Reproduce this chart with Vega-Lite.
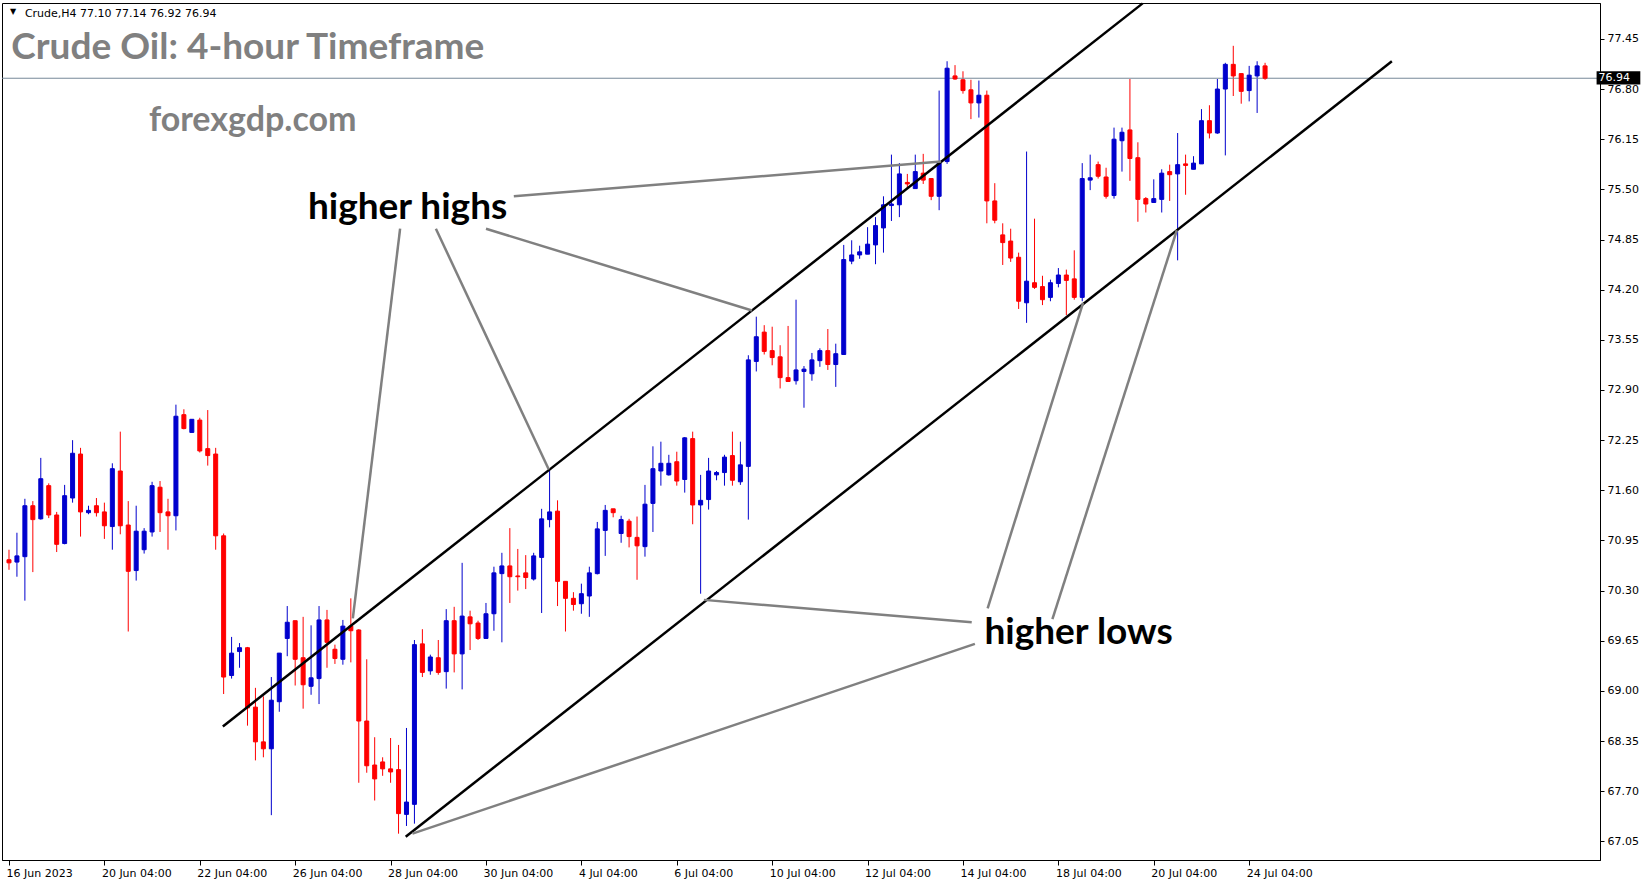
{
  "$schema": "https://vega.github.io/schema/vega-lite/v6.json",
  "width": 1598,
  "height": 857,
  "autosize": {"type": "none"},
  "padding": {"left": 2, "top": 3, "right": 49, "bottom": 24},
  "background": "white",
  "config": {
    "view": {"stroke": "black", "strokeWidth": 1},
    "axis": {"grid": false, "title": null, "domainColor": "black", "tickColor": "black", "labelColor": "black", "labelFont": "DejaVu Sans", "labelFontSize": 11}
  },
  "datasets": {
    "candles": [
      {"i":0,"o":70.70,"h":70.83,"l":70.57,"c":70.66},
      {"i":1,"o":70.67,"h":71.05,"l":70.48,"c":70.75},
      {"i":2,"o":70.74,"h":71.49,"l":70.17,"c":71.40},
      {"i":3,"o":71.40,"h":71.46,"l":70.54,"c":71.22},
      {"i":4,"o":71.23,"h":72.02,"l":71.22,"c":71.75},
      {"i":5,"o":71.66,"h":71.69,"l":71.24,"c":71.28},
      {"i":6,"o":71.28,"h":71.32,"l":70.80,"c":70.90},
      {"i":7,"o":70.91,"h":71.67,"l":70.90,"c":71.53},
      {"i":8,"o":71.50,"h":72.25,"l":71.44,"c":72.08},
      {"i":9,"o":72.07,"h":72.15,"l":71.00,"c":71.32},
      {"i":10,"o":71.31,"h":71.40,"l":71.29,"c":71.34},
      {"i":11,"o":71.40,"h":71.50,"l":71.26,"c":71.31},
      {"i":12,"o":71.32,"h":71.44,"l":70.97,"c":71.14},
      {"i":13,"o":71.13,"h":71.95,"l":70.83,"c":71.88},
      {"i":14,"o":71.85,"h":72.36,"l":71.03,"c":71.14},
      {"i":15,"o":71.15,"h":71.46,"l":69.77,"c":70.55},
      {"i":16,"o":70.56,"h":71.40,"l":70.43,"c":71.07},
      {"i":17,"o":70.83,"h":71.11,"l":70.78,"c":71.07},
      {"i":18,"o":71.06,"h":71.71,"l":71.00,"c":71.66},
      {"i":19,"o":71.64,"h":71.72,"l":71.06,"c":71.31},
      {"i":20,"o":71.32,"h":71.49,"l":70.83,"c":71.27},
      {"i":21,"o":71.27,"h":72.71,"l":71.08,"c":72.56},
      {"i":22,"o":72.58,"h":72.65,"l":72.39,"c":72.40},
      {"i":23,"o":72.35,"h":72.52,"l":72.35,"c":72.52},
      {"i":24,"o":72.51,"h":72.54,"l":72.09,"c":72.11},
      {"i":25,"o":72.14,"h":72.64,"l":71.92,"c":72.05},
      {"i":26,"o":72.07,"h":72.15,"l":70.83,"c":71.01},
      {"i":27,"o":71.01,"h":71.04,"l":68.96,"c":69.18},
      {"i":28,"o":69.20,"h":69.70,"l":69.16,"c":69.49},
      {"i":29,"o":69.51,"h":69.62,"l":69.30,"c":69.56},
      {"i":30,"o":69.56,"h":69.57,"l":68.55,"c":68.78},
      {"i":31,"o":68.79,"h":69.04,"l":68.10,"c":68.34},
      {"i":32,"o":68.34,"h":68.93,"l":68.14,"c":68.25},
      {"i":33,"o":68.25,"h":69.18,"l":67.39,"c":68.88},
      {"i":34,"o":68.86,"h":69.49,"l":68.73,"c":69.49},
      {"i":35,"o":69.68,"h":70.10,"l":69.45,"c":69.89},
      {"i":36,"o":69.91,"h":69.91,"l":69.07,"c":69.41},
      {"i":37,"o":69.43,"h":69.96,"l":68.77,"c":69.08},
      {"i":38,"o":69.06,"h":69.85,"l":68.95,"c":69.17},
      {"i":39,"o":69.16,"h":70.10,"l":68.83,"c":69.92},
      {"i":40,"o":69.92,"h":70.05,"l":69.30,"c":69.63},
      {"i":41,"o":69.54,"h":69.60,"l":69.35,"c":69.42},
      {"i":42,"o":69.41,"h":69.92,"l":69.34,"c":69.84},
      {"i":43,"o":69.84,"h":70.20,"l":69.37,"c":69.78},
      {"i":44,"o":69.79,"h":69.80,"l":67.81,"c":68.61},
      {"i":45,"o":68.61,"h":69.41,"l":67.94,"c":68.03},
      {"i":46,"o":68.04,"h":68.40,"l":67.58,"c":67.86},
      {"i":47,"o":68.08,"h":68.14,"l":67.90,"c":67.99},
      {"i":48,"o":67.99,"h":68.39,"l":67.81,"c":67.95},
      {"i":49,"o":67.98,"h":68.30,"l":67.15,"c":67.41},
      {"i":50,"o":67.40,"h":68.52,"l":67.25,"c":67.56},
      {"i":51,"o":67.53,"h":69.66,"l":67.28,"c":69.60},
      {"i":52,"o":69.61,"h":69.80,"l":69.18,"c":69.24},
      {"i":53,"o":69.26,"h":69.47,"l":69.21,"c":69.44},
      {"i":54,"o":69.43,"h":69.66,"l":69.21,"c":69.24},
      {"i":55,"o":69.25,"h":70.06,"l":69.03,"c":69.91},
      {"i":56,"o":69.91,"h":70.09,"l":69.24,"c":69.48},
      {"i":57,"o":69.48,"h":70.66,"l":69.02,"c":69.97},
      {"i":58,"o":69.96,"h":70.04,"l":69.53,"c":69.87},
      {"i":59,"o":69.88,"h":69.91,"l":69.66,"c":69.68},
      {"i":60,"o":69.68,"h":70.14,"l":69.68,"c":70.00},
      {"i":61,"o":70.00,"h":70.61,"l":69.78,"c":70.53},
      {"i":62,"o":70.52,"h":70.79,"l":69.63,"c":70.62},
      {"i":63,"o":70.62,"h":71.11,"l":70.14,"c":70.48},
      {"i":64,"o":70.49,"h":70.84,"l":70.30,"c":70.48},
      {"i":65,"o":70.53,"h":70.76,"l":70.32,"c":70.47},
      {"i":66,"o":70.45,"h":70.79,"l":70.43,"c":70.75},
      {"i":67,"o":70.73,"h":71.36,"l":70.01,"c":71.23},
      {"i":68,"o":71.22,"h":71.86,"l":71.12,"c":71.32},
      {"i":69,"o":71.33,"h":71.47,"l":70.10,"c":70.42},
      {"i":70,"o":70.42,"h":70.42,"l":69.77,"c":70.20},
      {"i":71,"o":70.20,"h":70.28,"l":70.04,"c":70.12},
      {"i":72,"o":70.13,"h":70.39,"l":70.00,"c":70.26},
      {"i":73,"o":70.23,"h":70.61,"l":69.96,"c":70.53},
      {"i":74,"o":70.52,"h":71.19,"l":70.51,"c":71.10},
      {"i":75,"o":71.08,"h":71.41,"l":70.75,"c":71.34},
      {"i":76,"o":71.36,"h":71.36,"l":71.25,"c":71.31},
      {"i":77,"o":71.04,"h":71.27,"l":70.92,"c":71.22},
      {"i":78,"o":71.20,"h":71.23,"l":70.86,"c":71.00},
      {"i":79,"o":70.99,"h":71.26,"l":70.44,"c":70.88},
      {"i":80,"o":70.87,"h":71.67,"l":70.74,"c":71.42},
      {"i":81,"o":71.43,"h":72.17,"l":71.06,"c":71.88},
      {"i":82,"o":71.85,"h":72.23,"l":71.66,"c":71.95},
      {"i":83,"o":71.80,"h":72.06,"l":71.79,"c":71.95},
      {"i":84,"o":71.97,"h":72.10,"l":71.66,"c":71.72},
      {"i":85,"o":71.74,"h":72.29,"l":71.57,"c":72.28},
      {"i":86,"o":72.27,"h":72.36,"l":71.16,"c":71.41},
      {"i":87,"o":71.41,"h":71.80,"l":70.26,"c":71.47},
      {"i":88,"o":71.48,"h":72.02,"l":71.35,"c":71.85},
      {"i":89,"o":71.80,"h":71.85,"l":71.73,"c":71.83},
      {"i":90,"o":71.83,"h":72.06,"l":71.66,"c":72.03},
      {"i":91,"o":72.05,"h":72.36,"l":71.66,"c":71.73},
      {"i":92,"o":71.71,"h":72.23,"l":71.67,"c":71.93},
      {"i":93,"o":71.91,"h":73.35,"l":71.22,"c":73.29},
      {"i":94,"o":73.27,"h":73.85,"l":73.14,"c":73.59},
      {"i":95,"o":73.65,"h":73.74,"l":73.36,"c":73.40},
      {"i":96,"o":73.41,"h":73.72,"l":73.22,"c":73.32},
      {"i":97,"o":73.33,"h":73.48,"l":72.92,"c":73.06},
      {"i":98,"o":73.06,"h":73.73,"l":73.01,"c":73.01},
      {"i":99,"o":73.02,"h":74.07,"l":72.97,"c":73.16},
      {"i":100,"o":73.14,"h":73.21,"l":72.67,"c":73.17},
      {"i":101,"o":73.11,"h":73.38,"l":73.02,"c":73.29},
      {"i":102,"o":73.28,"h":73.44,"l":73.20,"c":73.41},
      {"i":103,"o":73.41,"h":73.69,"l":73.16,"c":73.23},
      {"i":104,"o":73.23,"h":73.50,"l":72.94,"c":73.37},
      {"i":105,"o":73.36,"h":74.78,"l":73.36,"c":74.59},
      {"i":106,"o":74.57,"h":74.84,"l":74.53,"c":74.65},
      {"i":107,"o":74.65,"h":74.77,"l":74.60,"c":74.69},
      {"i":108,"o":74.66,"h":75.01,"l":74.66,"c":74.79},
      {"i":109,"o":74.78,"h":75.14,"l":74.53,"c":75.03},
      {"i":110,"o":75.00,"h":75.41,"l":74.68,"c":75.30},
      {"i":111,"o":75.29,"h":75.95,"l":75.09,"c":75.31},
      {"i":112,"o":75.30,"h":75.84,"l":75.14,"c":75.70},
      {"i":113,"o":75.59,"h":75.70,"l":75.52,"c":75.57},
      {"i":114,"o":75.51,"h":75.95,"l":75.51,"c":75.73},
      {"i":115,"o":75.71,"h":75.96,"l":75.57,"c":75.62},
      {"i":116,"o":75.64,"h":75.64,"l":75.36,"c":75.41},
      {"i":117,"o":75.41,"h":76.78,"l":75.23,"c":75.84},
      {"i":118,"o":75.86,"h":77.16,"l":75.83,"c":77.07},
      {"i":119,"o":76.97,"h":77.11,"l":76.92,"c":76.93},
      {"i":120,"o":76.92,"h":77.03,"l":76.74,"c":76.78},
      {"i":121,"o":76.79,"h":76.92,"l":76.41,"c":76.62},
      {"i":122,"o":76.62,"h":76.91,"l":76.43,"c":76.72},
      {"i":123,"o":76.72,"h":76.78,"l":75.06,"c":75.35},
      {"i":124,"o":75.35,"h":75.58,"l":75.06,"c":75.10},
      {"i":125,"o":74.91,"h":75.06,"l":74.52,"c":74.81},
      {"i":126,"o":74.83,"h":74.99,"l":74.56,"c":74.61},
      {"i":127,"o":74.62,"h":74.68,"l":73.95,"c":74.05},
      {"i":128,"o":74.03,"h":75.99,"l":73.77,"c":74.31},
      {"i":129,"o":74.29,"h":75.12,"l":74.21,"c":74.23},
      {"i":130,"o":74.24,"h":74.38,"l":74.00,"c":74.07},
      {"i":131,"o":74.10,"h":74.33,"l":74.05,"c":74.29},
      {"i":132,"o":74.28,"h":74.48,"l":74.23,"c":74.39},
      {"i":133,"o":74.39,"h":74.46,"l":73.87,"c":74.32},
      {"i":134,"o":74.34,"h":74.71,"l":74.07,"c":74.10},
      {"i":135,"o":74.10,"h":75.84,"l":74.05,"c":75.64},
      {"i":136,"o":75.62,"h":75.95,"l":75.49,"c":75.65},
      {"i":137,"o":75.82,"h":75.86,"l":75.64,"c":75.67},
      {"i":138,"o":75.66,"h":75.78,"l":75.38,"c":75.41},
      {"i":139,"o":75.42,"h":76.30,"l":75.38,"c":76.15},
      {"i":140,"o":76.13,"h":76.30,"l":75.73,"c":76.24},
      {"i":141,"o":76.27,"h":76.93,"l":75.61,"c":75.90},
      {"i":142,"o":75.91,"h":76.11,"l":75.08,"c":75.37},
      {"i":143,"o":75.38,"h":75.40,"l":75.20,"c":75.31},
      {"i":144,"o":75.33,"h":75.63,"l":75.33,"c":75.38},
      {"i":145,"o":75.37,"h":75.76,"l":75.20,"c":75.71},
      {"i":146,"o":75.73,"h":75.82,"l":75.35,"c":75.69},
      {"i":147,"o":75.70,"h":76.23,"l":74.58,"c":75.82},
      {"i":148,"o":75.83,"h":75.95,"l":75.43,"c":75.81},
      {"i":149,"o":75.76,"h":75.93,"l":75.76,"c":75.84},
      {"i":150,"o":75.83,"h":76.54,"l":75.83,"c":76.39},
      {"i":151,"o":76.39,"h":76.59,"l":76.16,"c":76.23},
      {"i":152,"o":76.23,"h":76.93,"l":76.22,"c":76.80},
      {"i":153,"o":76.80,"h":77.14,"l":75.94,"c":77.12},
      {"i":154,"o":77.12,"h":77.36,"l":76.71,"c":76.97},
      {"i":155,"o":77.00,"h":77.00,"l":76.61,"c":76.77},
      {"i":156,"o":76.78,"h":77.10,"l":76.64,"c":76.98},
      {"i":157,"o":76.97,"h":77.16,"l":76.49,"c":77.10},
      {"i":158,"o":77.10,"h":77.14,"l":76.92,"c":76.94}
    ],
    "trend": [
      {"x": 26.9, "y": 68.54, "x2": 142.6, "y2": 77.91},
      {"x": 49.9, "y": 67.11, "x2": 173.95, "y2": 77.16}
    ],
    "pointers": [
      {"x": 63.5, "y": 75.41, "x2": 117.25, "y2": 75.86},
      {"x": 60.0, "y": 74.99, "x2": 93.46, "y2": 73.93},
      {"x": 53.7, "y": 74.99, "x2": 67.9, "y2": 71.87},
      {"x": 49.2, "y": 74.99, "x2": 43.25, "y2": 69.94},
      {"x": 121.1, "y": 69.89, "x2": 87.41, "y2": 70.18},
      {"x": 121.5, "y": 69.61, "x2": 50.75, "y2": 67.15},
      {"x": 123.1, "y": 70.07, "x2": 135.1, "y2": 74.03},
      {"x": 131.25, "y": 69.93, "x2": 146.9, "y2": 74.97}
    ]
  },
  "layer": [
    {
      "data": {"name": "candles"},
      "mark": {"type": "rule", "strokeWidth": 1},
      "encoding": {
        "x": {"field": "i", "type": "quantitative", "scale": {"domain": [-0.25, 199.5], "nice": false, "zero": false},
          "axis": {"orient": "bottom", "values": [0, 12, 24, 36, 48, 60, 72, 84, 96, 108, 120, 132, 144, 156], "labelAlign": "left", "labelFlush": false, "labelOverlap": false, "labelOffset": -3, "tickSize": 5, "labelPadding": 2, "title": null, "grid": false,
            "labelExpr": "['16 Jun 2023','20 Jun 04:00','22 Jun 04:00','26 Jun 04:00','28 Jun 04:00','30 Jun 04:00','4 Jul 04:00','6 Jul 04:00','10 Jul 04:00','12 Jul 04:00','14 Jul 04:00','18 Jul 04:00','20 Jul 04:00','24 Jul 04:00'][round(datum.value / 12)]"}},
        "y": {"field": "l", "type": "quantitative", "scale": {"domain": [66.809, 77.915], "nice": false, "zero": false},
          "axis": {"orient": "right", "values": [67.05, 67.7, 68.35, 69, 69.65, 70.3, 70.95, 71.6, 72.25, 72.9, 73.55, 74.2, 74.85, 75.5, 76.15, 76.8, 77.45], "format": ".2f", "tickSize": 4, "labelPadding": 3, "title": null, "grid": false}},
        "y2": {"field": "h"},
        "color": {"condition": {"test": "datum.c < datum.o", "value": "#FF0000"}, "value": "#0000CD"}
      }
    },
    {
      "data": {"values": [{"p": 76.94}]},
      "mark": {"type": "rule", "color": "#778899", "strokeWidth": 1},
      "encoding": {
        "y": {"field": "p", "type": "quantitative"}
      }
    },
    {
      "data": {"name": "candles"},
      "mark": {"type": "bar", "size": 4, "strokeWidth": 1},
      "encoding": {
        "x": {"field": "i", "type": "quantitative"},
        "y": {"field": "o", "type": "quantitative"},
        "y2": {"field": "c"},
        "color": {"condition": {"test": "datum.c < datum.o", "value": "#FF0000"}, "value": "#0000CD"},
        "stroke": {"condition": {"test": "datum.c < datum.o", "value": "#FF0000"}, "value": "#0000CD"}
      }
    },
    {
      "data": {"name": "trend"},
      "mark": {"type": "rule", "color": "black", "strokeWidth": 2.5},
      "encoding": {
        "x": {"field": "x", "type": "quantitative"},
        "x2": {"field": "x2"},
        "y": {"field": "y", "type": "quantitative"},
        "y2": {"field": "y2"}
      }
    },
    {
      "data": {"name": "pointers"},
      "mark": {"type": "rule", "color": "#808080", "strokeWidth": 2.5},
      "encoding": {
        "x": {"field": "x", "type": "quantitative"},
        "x2": {"field": "x2"},
        "y": {"field": "y", "type": "quantitative"},
        "y2": {"field": "y2"}
      }
    },
    {
      "data": {"values": [{"x": 122.7, "y": 69.608, "t": "higher lows"}, {"x": 37.6, "y": 75.116, "t": "higher highs"}]},
      "mark": {"type": "text", "align": "left", "baseline": "alphabetic", "font": "Lato", "fontWeight": "bold", "fontSize": 37, "color": "black"},
      "encoding": {
        "x": {"field": "x", "type": "quantitative"},
        "y": {"field": "y", "type": "quantitative"},
        "text": {"field": "t"}
      }
    },
    {
      "data": {"values": [{"x": 0.3, "y": 77.19, "t": "Crude Oil: 4-hour Timeframe", "s": 37}, {"x": 17.6, "y": 76.25, "t": "forexgdp.com", "s": 34}]},
      "mark": {"type": "text", "align": "left", "baseline": "alphabetic", "font": "Lato", "fontWeight": "bold", "color": "#808080"},
      "encoding": {
        "x": {"field": "x", "type": "quantitative"},
        "y": {"field": "y", "type": "quantitative"},
        "text": {"field": "t"},
        "size": {"field": "s", "type": "quantitative", "scale": null, "legend": null}
      }
    },
    {
      "data": {"values": [{"x": 2.0, "y": 77.738, "t": "Crude,H4  77.10 77.14 76.92 76.94"}]},
      "mark": {"type": "text", "align": "left", "baseline": "alphabetic", "font": "DejaVu Sans", "fontSize": 11, "color": "black"},
      "encoding": {
        "x": {"field": "x", "type": "quantitative"},
        "y": {"field": "y", "type": "quantitative"},
        "text": {"field": "t"}
      }
    },
    {
      "data": {"values": [{"x": 0.5, "y": 77.80, "t": "▼"}]},
      "mark": {"type": "text", "align": "center", "baseline": "middle", "font": "DejaVu Sans", "fontSize": 8, "color": "black"},
      "encoding": {
        "x": {"field": "x", "type": "quantitative"},
        "y": {"field": "y", "type": "quantitative"},
        "text": {"field": "t"}
      }
    },
    {
      "data": {"values": [{"x": 199.7, "x2": 205.2, "y": 76.86, "y2": 77.03}]},
      "mark": {"type": "rect", "color": "black", "clip": false},
      "encoding": {
        "x": {"field": "x", "type": "quantitative"},
        "x2": {"field": "x2"},
        "y": {"field": "y", "type": "quantitative"},
        "y2": {"field": "y2"}
      }
    },
    {
      "data": {"values": [{"x": 199.95, "y": 76.94, "t": "76.94"}]},
      "mark": {"type": "text", "align": "left", "baseline": "middle", "font": "DejaVu Sans", "fontSize": 11, "color": "white"},
      "encoding": {
        "x": {"field": "x", "type": "quantitative"},
        "y": {"field": "y", "type": "quantitative"},
        "text": {"field": "t"}
      }
    }
  ]
}
